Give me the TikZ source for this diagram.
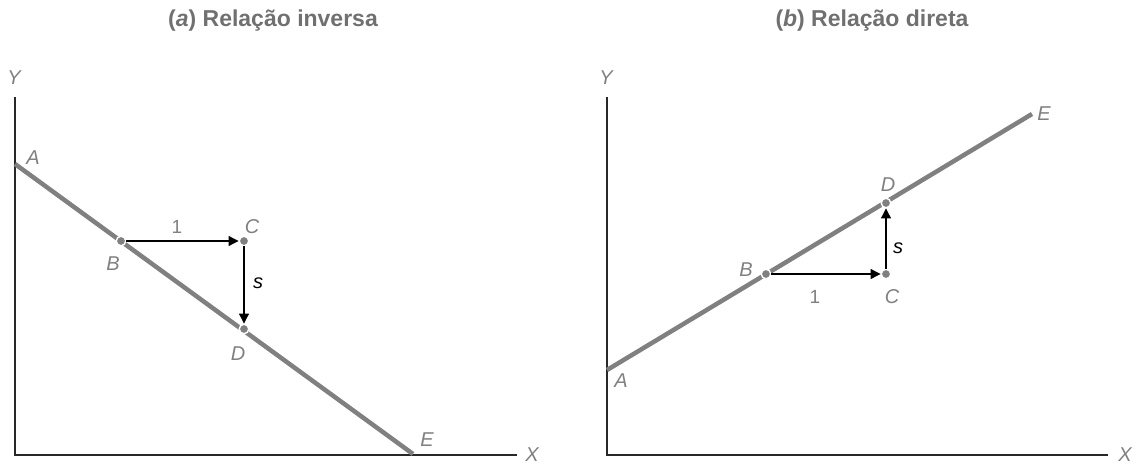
\documentclass[tikz,border=0pt]{standalone}
\usepackage{fontspec}
\setmainfont{Liberation Sans}
\usetikzlibrary{arrows.meta}
\definecolor{lgray}{RGB}{128,128,128}
\definecolor{tgray}{RGB}{112,112,112}
\definecolor{axisc}{RGB}{40,40,40}
\begin{document}
\begin{tikzpicture}[x=1pt,y=-1pt,
  axis/.style={draw=axisc,line width=1.4pt},
  curve/.style={draw=lgray,line width=4.5pt},
  pt/.style={circle,fill=lgray,draw=white,line width=1.4pt,inner sep=0pt,minimum size=9.5pt},
  lab/.style={text=lgray,font=\fontsize{20}{20}\selectfont\itshape,inner sep=0pt},
  num/.style={text=lgray,font=\fontsize{19}{19}\selectfont,inner sep=0pt},
  slab/.style={text=black,font=\fontsize{20}{20}\selectfont\itshape,inner sep=0pt},
  ttl/.style={text=tgray,font=\fontsize{23}{23}\selectfont\bfseries,inner sep=0pt},
  arr/.style={draw=black,line width=1.1pt,-{Triangle[length=10pt,width=10pt]}}]
\useasboundingbox (0,0) rectangle (1138,466);
% ---------- panel a ----------
\node[ttl] (ta) at (273,21) {(\textit{a}) Relação inversa};
\coordinate (oa) at (15,455);
\coordinate (ya) at (15,97);
\coordinate (xa) at (517,455);
\draw[axis] (ya) -- (oa) -- (xa);
\node[lab] (Yla) at (14,78) {Y};
\node[lab] (Xla) at (532,455) {X};
\coordinate (Aa) at (15,164);
\coordinate (Ea) at (413,454);
\draw[curve] (Aa) -- (Ea);
\node[lab] (Ala) at (33,158) {A};
\node[lab] (Ela) at (427,440) {E};
\node[pt] (Ba) at (121,241) {};
\node[pt] (Ca) at (244,241) {};
\node[pt] (Da) at (244,329) {};
\draw[arr] (Ba) -- (Ca);
\draw[arr] (Ca) -- (Da);
\node[num] (oneA) at (177,227) {1};
\node[slab] (sA) at (258,283) {s};
\node[lab] (Bla) at (113,264) {B};
\node[lab] (Cla) at (252,227) {C};
\node[lab] (Dla) at (238,354) {D};
% ---------- panel b ----------
\node[ttl] (tb) at (872,21) {(\textit{b}) Relação direta};
\coordinate (ob) at (607,455);
\coordinate (yb) at (607,97);
\coordinate (xb) at (1108,455);
\draw[axis] (yb) -- (ob) -- (xb);
\node[lab] (Ylb) at (606,78) {Y};
\node[lab] (Xlb) at (1125,455) {X};
\coordinate (Ab) at (607,370);
\coordinate (Eb) at (1032,114);
\draw[curve] (Ab) -- (Eb);
\node[lab] (Alb) at (621,381) {A};
\node[lab] (Elb) at (1044,114) {E};
\node[pt] (Bb) at (766,274) {};
\node[pt] (Cb) at (886,274) {};
\node[pt] (Db) at (886,203) {};
\draw[arr] (Bb) -- (Cb);
\draw[arr] (Cb) -- (Db);
\node[num] (oneB) at (815,297) {1};
\node[slab] (sB) at (898,248) {s};
\node[lab] (Blb) at (746,270) {B};
\node[lab] (Clb) at (892,297) {C};
\node[lab] (Dlb) at (888,185) {D};
\end{tikzpicture}
\end{document}
